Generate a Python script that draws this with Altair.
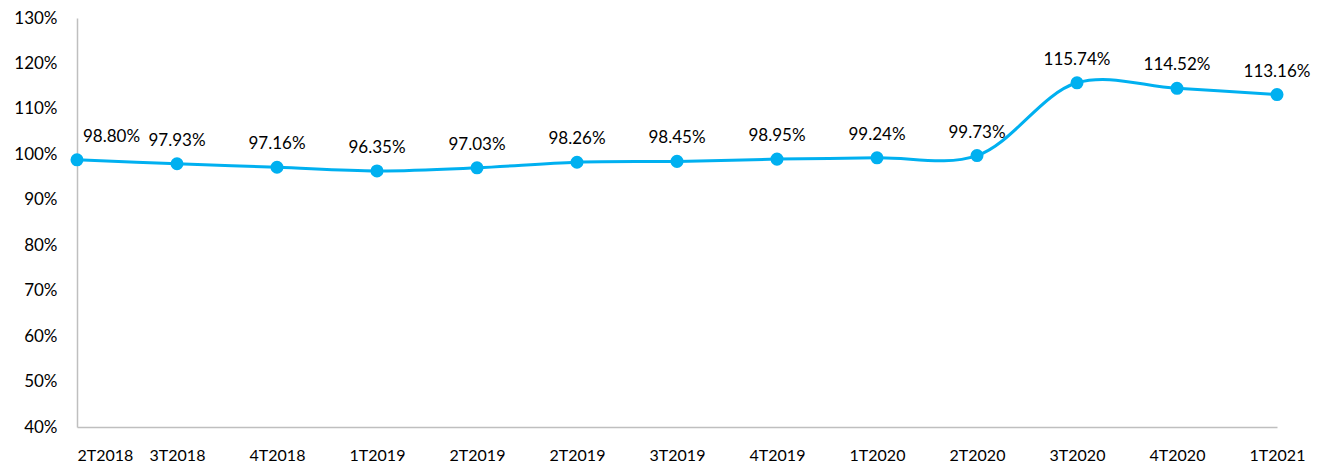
import altair as alt
import pandas as pd

quarters = ["2T2018", "3T2018", "4T2018", "1T2019", "2T2019", "2T2019", "3T2019",
            "4T2019", "1T2020", "2T2020", "3T2020", "4T2020", "1T2021"]
values = [98.80, 97.93, 97.16, 96.35, 97.03, 98.26, 98.45, 98.95, 99.24, 99.73,
          115.74, 114.52, 113.16]
y_ticks = [40, 50, 60, 70, 80, 90, 100, 110, 120, 130]

df = pd.DataFrame({
    "idx": list(range(len(quarters))),
    "quarter": quarters,
    "value": values,
    "label": [f"{v:.2f}%" for v in values],
})

FONT = "Lato"
COLOR = "#00B0F0"
AXIS_COLOR = "#BFBFBF"

label_js = "[" + ",".join(f"'{q}'" for q in quarters) + "]"

x = alt.X(
    "idx:Q",
    scale=alt.Scale(domain=[0, len(quarters) - 1], nice=False, zero=False),
    axis=alt.Axis(
        values=list(range(len(quarters))),
        labelExpr=f"{label_js}[datum.value]",
        title=None,
        grid=False,
        ticks=False,
        domainColor=AXIS_COLOR,
        domainWidth=1.5,
        labelFont=FONT,
        labelFontSize=16,
        labelColor="#000000",
        labelPadding=20,
        labelBaseline="top",
        labelAlign={"condition": {"test": "datum.value == 0", "value": "left"}, "value": "center"},
    ),
)

y = alt.Y(
    "value:Q",
    scale=alt.Scale(domain=[40, 130], nice=False, zero=False),
    axis=alt.Axis(
        values=y_ticks,
        labelExpr="datum.value + '%'",
        title=None,
        grid=False,
        ticks=False,
        domainColor=AXIS_COLOR,
        domainWidth=1.5,
        labelFont=FONT,
        labelFontSize=17,
        labelColor="#000000",
        labelPadding=20,
    ),
)

base = alt.Chart(df)

line = base.mark_line(color=COLOR, strokeWidth=3, interpolate="catmull-rom").encode(x=x, y=y)
points = base.mark_circle(color=COLOR, size=170, opacity=1).encode(x=x, y=y)
labels = base.transform_filter("datum.idx > 0").mark_text(
    font=FONT, fontSize=17, color="#000000", baseline="bottom", dy=-14
).encode(x=x, y=y, text="label:N")
first_label = base.transform_filter("datum.idx == 0").mark_text(
    font=FONT, fontSize=17, color="#000000", baseline="bottom", align="left", dx=6, dy=-14
).encode(x=x, y=y, text="label:N")

chart = alt.layer(line, points, labels, first_label).properties(
    width=1200,
    height=409,
    background="#FFFFFF",
    view=alt.ViewBackground(stroke="transparent", strokeWidth=0),
    padding={"left": 69, "top": 10, "right": 35, "bottom": 38},
    autosize=alt.AutoSizeParams(type="none"),
).configure_view(stroke="transparent", strokeWidth=0)

chart.save("out.html", embed_options={"renderer": "svg", "actions": False})
